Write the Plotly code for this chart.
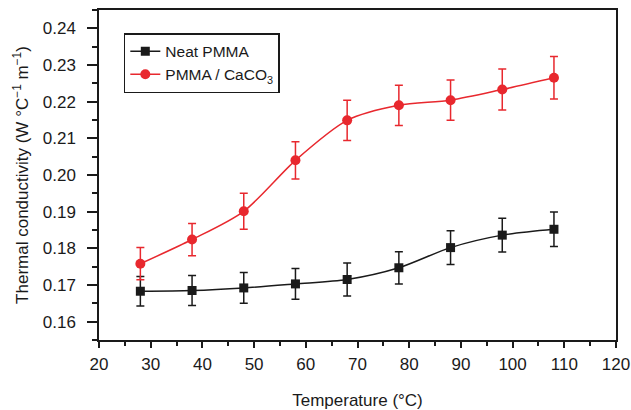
import plotly.graph_objects as go

temps = [28, 38, 48, 58, 68, 78, 88, 98, 108]

neat_pmma = [0.1683, 0.1685, 0.1692, 0.1703, 0.1715, 0.1747, 0.1802, 0.1836, 0.1852]
neat_err = [0.0040, 0.0041, 0.0042, 0.0042, 0.0045, 0.0044, 0.0046, 0.0046, 0.0047]

caco3 = [0.1758, 0.1824, 0.1901, 0.2040, 0.2149, 0.2190, 0.2204, 0.2233, 0.2265]
caco3_err = [0.0044, 0.0044, 0.0049, 0.0051, 0.0055, 0.0055, 0.0055, 0.0056, 0.0058]

black = "#1a1a1a"
red = "#e8282e"
font = "Liberation Sans, Arial, sans-serif"

fig = go.Figure()
fig.add_trace(go.Scatter(
    x=temps, y=neat_pmma, name="Neat PMMA", mode="lines+markers",
    line=dict(color=black, width=1.5, shape="spline", smoothing=0.8),
    marker=dict(symbol="square", size=9, color=black),
    error_y=dict(type="data", array=neat_err, color=black, thickness=1.5, width=4),
))
fig.add_trace(go.Scatter(
    x=temps, y=caco3, name="PMMA / CaCO<sub>3</sub>", mode="lines+markers",
    line=dict(color=red, width=1.5, shape="spline", smoothing=0.8),
    marker=dict(symbol="circle", size=10, color=red),
    error_y=dict(type="data", array=caco3_err, color=red, thickness=1.5, width=4),
))

axis_common = dict(
    showline=True, linecolor=black, linewidth=1.5, mirror=True,
    ticks="outside", tickcolor=black, tickwidth=1.5,
    showgrid=False, zeroline=False, automargin=False,
    tickfont=dict(family=font, size=17, color=black),
)

fig.update_xaxes(
    range=[20, 120], dtick=10, tick0=20, ticklen=6, ticklabelstandoff=2,
    minor=dict(dtick=5, ticks="outside", ticklen=4, tickcolor=black, tickwidth=1.5),
    title=dict(text="Temperature (°C)", font=dict(family=font, size=17, color=black), standoff=21),
    **axis_common,
)
fig.update_yaxes(
    range=[0.155, 0.245], dtick=0.01, tick0=0.16, tickformat=".2f", ticklen=10,
    ticklabelstandoff=8,
    minor=dict(dtick=0.005, ticks="outside", ticklen=5, tickcolor=black, tickwidth=1.5),
    title=dict(text="Thermal conductivity (W °C<sup>−1</sup> m<sup>−1</sup>)",
               font=dict(family=font, size=17, color=black), standoff=10),
    **axis_common,
)

fig.update_layout(
    width=631, height=410,
    margin=dict(l=99, r=15, t=10, b=70),
    plot_bgcolor="white", paper_bgcolor="white",
    legend=dict(
        x=0.048, y=0.93, xanchor="left", yanchor="top",
        bgcolor="white", bordercolor=black, borderwidth=1.5,
        font=dict(family=font, size=15.5, color=black),
        tracegroupgap=0, itemsizing="trace",
    ),
)

# drop the browser's default 8px body margin so the figure sits at (0, 0)
fig.write_html("out.html", config={"displayModeBar": False},
               post_script="document.body.style.margin='0';")
